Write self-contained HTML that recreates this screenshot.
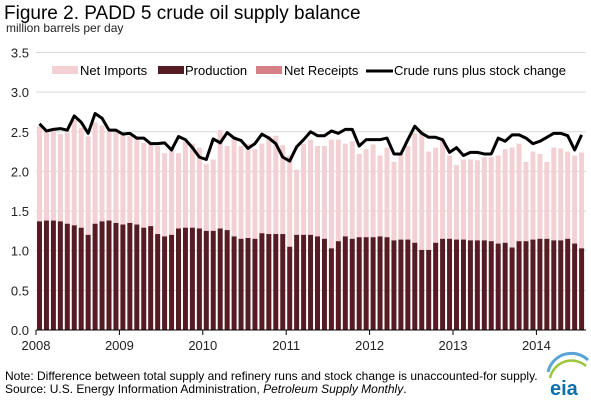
<!DOCTYPE html>
<html><head><meta charset="utf-8"><style>
body{margin:0;background:#fff;font-family:"Liberation Sans",Arial,sans-serif;}
svg text{font-family:"Liberation Sans",Arial,sans-serif;}
</style></head><body>
<svg id="c" width="591" height="400" xmlns="http://www.w3.org/2000/svg">
<text x="4" y="19" font-size="19" fill="#000">Figure 2.  PADD 5 crude oil supply balance</text>
<text x="6" y="32" font-size="12" fill="#222">million barrels  per day</text>
<g id="grid"></g><g id="bars"></g><g id="line"></g><g id="axes"></g>
<g>
<rect x="52" y="66" width="26" height="8" fill="#f2d0d4"/>
<text x="80" y="75" font-size="13">Net Imports</text>
<rect x="158" y="66" width="26" height="8" fill="#561b23"/>
<text x="185" y="75" font-size="13">Production</text>
<rect x="256" y="66" width="26" height="8" fill="#d57f87"/>
<text x="284" y="75" font-size="13">Net Receipts</text>
<line x1="366" y1="71" x2="393" y2="71" stroke="#000" stroke-width="3"/>
<text x="394" y="75" font-size="13">Crude runs plus stock change</text>
</g>
<text x="5" y="380" font-size="12">Note:  Difference between total supply and refinery runs and stock change is unaccounted-for supply.</text>
<text x="5" y="393" font-size="12">Source:  U.S. Energy Information Administration, <tspan font-style="italic">Petroleum Supply Monthly</tspan>.</text>
<g>
<path d="M548 372 A24 24 0 0 1 588 360" fill="none" stroke="#5aa5d6" stroke-width="3"/>
<path d="M550 378 A22 22 0 0 1 586 366" fill="none" stroke="#9bc63b" stroke-width="2.5"/>
<text x="550" y="395" font-size="20" font-weight="bold" fill="#0f6fa8">eia</text>
</g>
</svg>
<script>
const years=["2008","2009","2010","2011","2012","2013","2014"];
const yTicks=["0.0","0.5","1.0","1.5","2.0","2.5","3.0","3.5"];
const production=[1.37,1.38,1.38,1.37,1.34,1.32,1.29,1.20,1.34,1.37,1.38,1.35,
1.33,1.35,1.33,1.29,1.31,1.21,1.18,1.20,1.28,1.29,1.29,1.28,
1.25,1.25,1.28,1.26,1.18,1.15,1.16,1.15,1.22,1.21,1.21,1.21,
1.05,1.20,1.20,1.20,1.18,1.15,1.03,1.12,1.18,1.15,1.17,1.17,
1.17,1.18,1.17,1.13,1.14,1.14,1.10,1.01,1.01,1.10,1.15,1.15,
1.14,1.14,1.13,1.13,1.13,1.12,1.09,1.10,1.04,1.12,1.12,1.14,
1.15,1.15,1.13,1.13,1.15,1.09,1.03];
const totalSupply=[2.57,2.52,2.51,2.47,2.49,2.65,2.55,2.44,2.62,2.58,2.50,2.49,
2.47,2.45,2.41,2.36,2.36,2.32,2.23,2.31,2.23,2.38,2.35,2.30,
2.09,2.15,2.52,2.32,2.45,2.32,2.35,2.28,2.35,2.45,2.45,2.33,
2.20,2.02,2.35,2.40,2.32,2.32,2.40,2.40,2.35,2.38,2.22,2.28,
2.34,2.20,2.30,2.12,2.22,2.32,2.48,2.52,2.25,2.30,2.40,2.20,
2.08,2.15,2.15,2.14,2.18,2.18,2.20,2.28,2.30,2.35,2.12,2.25,
2.22,2.12,2.30,2.29,2.25,2.20,2.24];
const crudeRuns=[2.60,2.51,2.53,2.54,2.52,2.70,2.62,2.48,2.73,2.67,2.52,2.52,
2.47,2.48,2.42,2.42,2.35,2.35,2.36,2.27,2.44,2.40,2.30,2.18,
2.15,2.41,2.36,2.49,2.42,2.39,2.29,2.35,2.47,2.42,2.35,2.18,
2.13,2.31,2.40,2.50,2.45,2.45,2.51,2.48,2.53,2.53,2.32,2.40,
2.40,2.40,2.42,2.22,2.22,2.40,2.57,2.48,2.43,2.43,2.40,2.24,
2.30,2.20,2.24,2.24,2.22,2.22,2.42,2.38,2.46,2.46,2.42,2.35,
2.38,2.43,2.48,2.48,2.45,2.27,2.46];
const NS="http://www.w3.org/2000/svg";
const X0=36,MW=6.95,Y0=330,PU=79.3;
function xs(i){return X0+i*MW;}
function ys(v){return Y0-v*PU;}
function mk(t,a,p){const e=document.createElementNS(NS,t);for(const k in a)e.setAttribute(k,a[k]);p.appendChild(e);return e;}
const grid=document.getElementById('grid'),bars=document.getElementById('bars'),line=document.getElementById('line'),axes=document.getElementById('axes');
yTicks.forEach((t,i)=>{const v=parseFloat(t);
 if(v>0){const g=mk('line',{x1:X0,x2:586,y1:ys(v),y2:ys(v),stroke:'#d9d9d9','stroke-width':1},grid);
 
 }
 const tx=mk('text',{x:29,y:ys(v)+5,'font-size':13,'text-anchor':'end',fill:'#222'},axes);tx.textContent=t;
 
 
});
production.forEach((p,i)=>{
 const x=xs(i)+1;
 const r1=mk('rect',{x:x,y:ys(totalSupply[i]),width:5,height:ys(p)-ys(totalSupply[i]),fill:'#f2d0d4'},bars);
 
 
 const r2=mk('rect',{x:x,y:ys(p),width:5,height:Y0-ys(p),fill:'#561b23'},bars);
 
 
});
const pts=crudeRuns.map((v,i)=>(xs(i)+3.5)+','+ys(v)).join(' ');
const pl=mk('polyline',{points:pts,fill:'none',stroke:'#000','stroke-width':3,'stroke-linejoin':'round'},line);


const ax=mk('line',{x1:X0,x2:586,y1:Y0,y2:Y0,stroke:'#000','stroke-width':1},axes);


years.forEach((y,i)=>{const x=xs(i*12);
 const tk=mk('line',{x1:x,x2:x,y1:Y0,y2:Y0+5,stroke:'#000'},axes);
 
 
 const tx=mk('text',{x:x,y:Y0+20,'font-size':13,'text-anchor':'middle',fill:'#222'},axes);tx.textContent=y;
 
 
});
</script>
</body></html>
